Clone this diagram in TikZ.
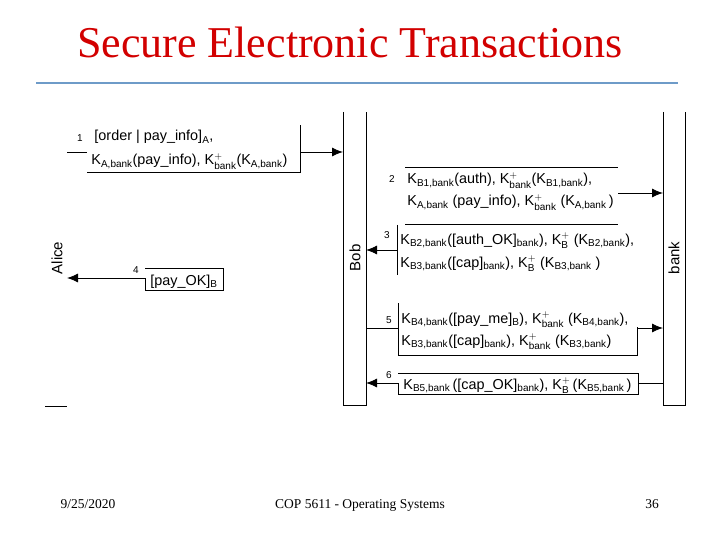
\documentclass[tikz,border=0pt]{standalone}
\usepackage{fontspec}
\usepackage{amsmath}
\setmainfont{Liberation Sans}
\newfontfamily\serifx{Liberation Serif}
\usetikzlibrary{arrows.meta}
\definecolor{titlered}{RGB}{210,0,0}
\definecolor{ruleblue}{RGB}{110,155,200}
\newcommand{\KS}[1]{K$_{\text{#1}}$}
\newcommand{\KP}[1]{K$^{+}_{\text{#1}}$}
\begin{document}
\begin{tikzpicture}[x=1pt,y=-1pt,line width=0.9pt,
  msg/.style={anchor=base west,inner sep=0pt,font=\fontsize{14.4}{16}\selectfont},
  num/.style={anchor=base,inner sep=0pt,font=\fontsize{10}{12}\selectfont},
  who/.style={rotate=90,inner sep=0pt,font=\fontsize{15}{17}\selectfont},
  arr/.style={-{Latex[length=11pt,width=9pt]}},
  foot/.style={font=\serifx\fontsize{13.5}{16}\selectfont,inner sep=0pt,anchor=base}]
\useasboundingbox (0,0) rectangle (720,540);

% title and rule
\node[font=\serifx\fontsize{44}{50}\selectfont,text=titlered,anchor=base,inner sep=0pt] (title) at (350,58) {Secure Electronic Transactions};
\coordinate (ruleL) at (36,83);
\coordinate (ruleR) at (678,83);
\draw[ruleblue,line width=2pt] (ruleL) -- (ruleR);

% parties
\coordinate (bobTL) at (343,112); \coordinate (bobBL) at (343,405);
\coordinate (bobBR) at (366,405); \coordinate (bobTR) at (366,112);
\draw (bobTL) -- (bobBL) -- (bobBR) -- (bobTR);
\coordinate (bankTL) at (663,112); \coordinate (bankBL) at (663,405);
\coordinate (bankBR) at (685,405); \coordinate (bankTR) at (685,112);
\draw (bankTL) -- (bankBL) -- (bankBR) -- (bankTR);
\coordinate (aliceBL) at (45,406); \coordinate (aliceBR) at (67,406);
\draw (aliceBL) -- (aliceBR);
\node[who] (alice) at (57,258) {Alice};
\node[who] (bob) at (355,258) {Bob};
\node[who] (bank) at (674,258) {bank};

% message 1
\node[num] (n1) at (80,142) {1};
\node[msg] (m1a) at (94,141) {[order | pay\_info]$_{\text{A}}$,};
\node[msg] (m1b) at (91,165) {\KS{A,bank}(pay\_info), \KP{bank}(\KS{A,bank})};
\coordinate (a1) at (67,152); \coordinate (b1) at (87,152);
\draw (a1) -- (b1);
\coordinate (c1) at (87,172); \coordinate (d1) at (300,172); \coordinate (e1) at (300,125);
\draw (c1) -- (d1) -- (e1);
\coordinate (f1) at (300,152); \coordinate (g1) at (343,152);
\draw[arr] (f1) -- (g1);

% message 2
\node[num] (n2) at (392,183) {2};
\node[msg] (m2a) at (407,184) {\KS{B1,bank}(auth), \KP{bank}(\KS{B1,bank}),};
\node[msg] (m2b) at (407,206) {\KS{A,bank} (pay\_info), \KP{bank} (\KS{A,bank}\,)};
\coordinate (a2) at (405,167); \coordinate (b2) at (618,167);
\coordinate (c2) at (405,224); \coordinate (d2) at (618,224);
\draw (a2) -- (b2); \draw (c2) -- (d2);
\coordinate (e2) at (618,193); \coordinate (f2) at (663,193);
\draw[arr] (e2) -- (f2);

% message 3
\node[num] (n3) at (387,239) {3};
\node[msg] (m3a) at (400,244) {\KS{B2,bank}([auth\_OK]$_{\text{bank}}$), \KP{B} (\KS{B2,bank}),};
\node[msg] (m3b) at (400,267) {\KS{B3,bank}([cap]$_{\text{bank}}$), \KP{B} (\KS{B3,bank} )};
\coordinate (a3) at (397,225); \coordinate (b3) at (397,275);
\draw (a3) -- (b3);
\coordinate (c3) at (397,250); \coordinate (d3) at (366,250);
\draw[arr] (c3) -- (d3);

% message 4
\node[num] (n4) at (136,273) {4};
\node[msg] (m4) at (150,285) {[pay\_OK]$_{\text{B}}$};
\coordinate (a4) at (145,278); \coordinate (b4) at (145,290);
\coordinate (c4) at (223,290); \coordinate (d4) at (223,268); \coordinate (e4) at (145,268);
\draw (a4) -- (b4) -- (c4) -- (d4) -- (e4);
\coordinate (f4) at (67,278);
\draw[arr] (a4) -- (f4);

% message 5
\node[num] (n5) at (389,323) {5};
\node[msg] (m5a) at (401,323) {\KS{B4,bank}([pay\_me]$_{\text{B}}$), \KP{bank} (\KS{B4,bank}),};
\node[msg] (m5b) at (401,345) {\KS{B3,bank}([cap]$_{\text{bank}}$), \KP{bank} (\KS{B3,bank})};
\coordinate (a5) at (366,328); \coordinate (b5) at (398,328);
\draw (a5) -- (b5);
\coordinate (c5) at (398,303); \coordinate (d5) at (398,355);
\coordinate (e5) at (637,355); \coordinate (f5) at (637,327);
\draw (c5) -- (d5) -- (e5) -- (f5);
\coordinate (g5) at (637,328); \coordinate (h5) at (663,328);
\draw[arr] (g5) -- (h5);

% message 6
\node[num] (n6) at (389,378) {6};
\node[msg] (m6) at (403,389) {\KS{B5,bank}\,([cap\_OK]$_{\text{bank}}$), \KP{B}\,(\KS{B5,bank}\,)};
\coordinate (a6) at (398,383); \coordinate (b6) at (398,394);
\coordinate (c6) at (638,394); \coordinate (d6) at (638,373); \coordinate (e6) at (398,373);
\draw (a6) -- (b6) -- (c6) -- (d6) -- (e6);
\coordinate (f6) at (366,383);
\draw[arr] (a6) -- (f6);
\coordinate (g6) at (638,383); \coordinate (h6) at (663,383);
\draw (g6) -- (h6);

% footer
\node[foot] (date) at (88,508) {9/25/2020};
\node[foot] (course) at (360,508) {COP 5611 - Operating Systems};
\node[foot] (page) at (652,508) {36};
\end{tikzpicture}
\end{document}
